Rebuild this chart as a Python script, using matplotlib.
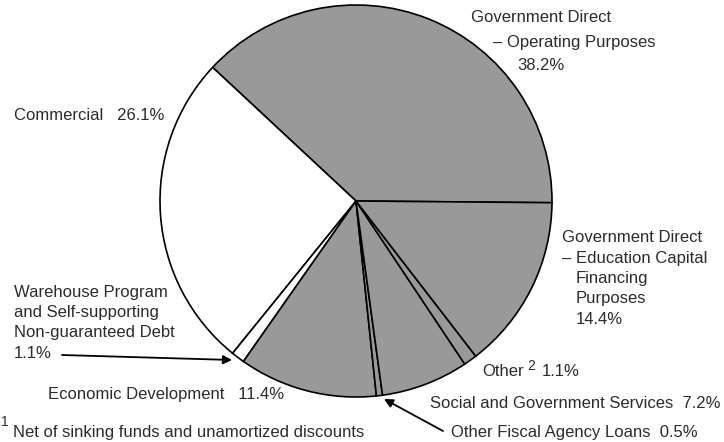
import numpy as np
import matplotlib.pyplot as plt

plt.rcParams['font.family'] = ['Liberation Sans', 'DejaVu Sans']

# Debt by category, percent of total
categories = ['Government Direct – Operating Purposes', 'Commercial',
              'Warehouse Program and Self-supporting Non-guaranteed Debt',
              'Economic Development', 'Other Fiscal Agency Loans',
              'Social and Government Services', 'Other',
              'Government Direct – Education Capital Financing Purposes']
shares = [38.2, 26.1, 1.1, 11.4, 0.5, 7.2, 1.1, 14.4]
fills = ['#999999', 'white', 'white', '#999999', '#999999', '#999999', '#999999', '#999999']

W, H = 724, 442
fig = plt.figure(figsize=(W / 100, H / 100), dpi=100)
ax = fig.add_axes([0, 0, 1, 1])

def py(y):
    # pixel row measured from the top
    return H - y

ax.pie(shares, colors=fills, startangle=-0.5, counterclock=True,
       center=(356, py(201)), radius=196, frame=True,
       wedgeprops=dict(edgecolor='black', linewidth=1.2))
ax.set_xlim(0, W)
ax.set_ylim(0, H)
ax.set_aspect('equal')
ax.axis('off')

tc = '#2b2b2b'
fs = 12
kw = dict(fontsize=fs, color=tc, va='center', ha='left')
sup = dict(fontsize=10, color=tc, va='center', ha='left')

def pct(v):
    return f'{v:.1f}%'

# Operating purposes
ax.text(471, py(18), 'Government Direct', **kw)
ax.text(493, py(42), '– Operating Purposes', **kw)
ax.text(517, py(65), pct(shares[0]), **kw)

# Commercial
ax.text(14, py(115), 'Commercial   ' + pct(shares[1]), **kw)

# Education capital
ax.text(562, py(238), 'Government Direct', **kw)
ax.text(562, py(258), '– Education Capital', **kw)
ax.text(576, py(278), 'Financing', **kw)
ax.text(576, py(299), 'Purposes', **kw)
ax.text(576, py(319), pct(shares[7]), **kw)

# Warehouse program
ax.text(14, py(293), 'Warehouse Program', **kw)
ax.text(14, py(313), 'and Self-supporting', **kw)
ax.text(14, py(333), 'Non-guaranteed Debt', **kw)
ax.text(14, py(354), pct(shares[2]), **kw)
ax.annotate('', xy=(232, py(360)), xytext=(62, py(355)),
            arrowprops=dict(arrowstyle='-|>', color='black', lw=1.3,
                            mutation_scale=13, shrinkA=0, shrinkB=0))

# Economic development
ax.text(48, py(395), 'Economic Development   ' + pct(shares[3]), **kw)

# Other
ax.text(482, py(372), 'Other', **kw)
ax.text(527, py(366), '2', **sup)
ax.text(542, py(372), pct(shares[6]), **kw)

# Social and government services
ax.text(430, py(403), 'Social and Government Services  ' + pct(shares[5]), **kw)

# Other fiscal agency loans
ax.text(451, py(432), 'Other Fiscal Agency Loans  ' + pct(shares[4]), **kw)
ax.annotate('', xy=(384, py(399)), xytext=(443, py(431)),
            arrowprops=dict(arrowstyle='-|>', color='black', lw=1.3,
                            mutation_scale=13, shrinkA=0, shrinkB=0))

# Footnote
ax.text(1, py(422), '1', **sup)
ax.text(13, py(433), 'Net of sinking funds and unamortized discounts', **kw)

fig.savefig('out.png', dpi=100)
